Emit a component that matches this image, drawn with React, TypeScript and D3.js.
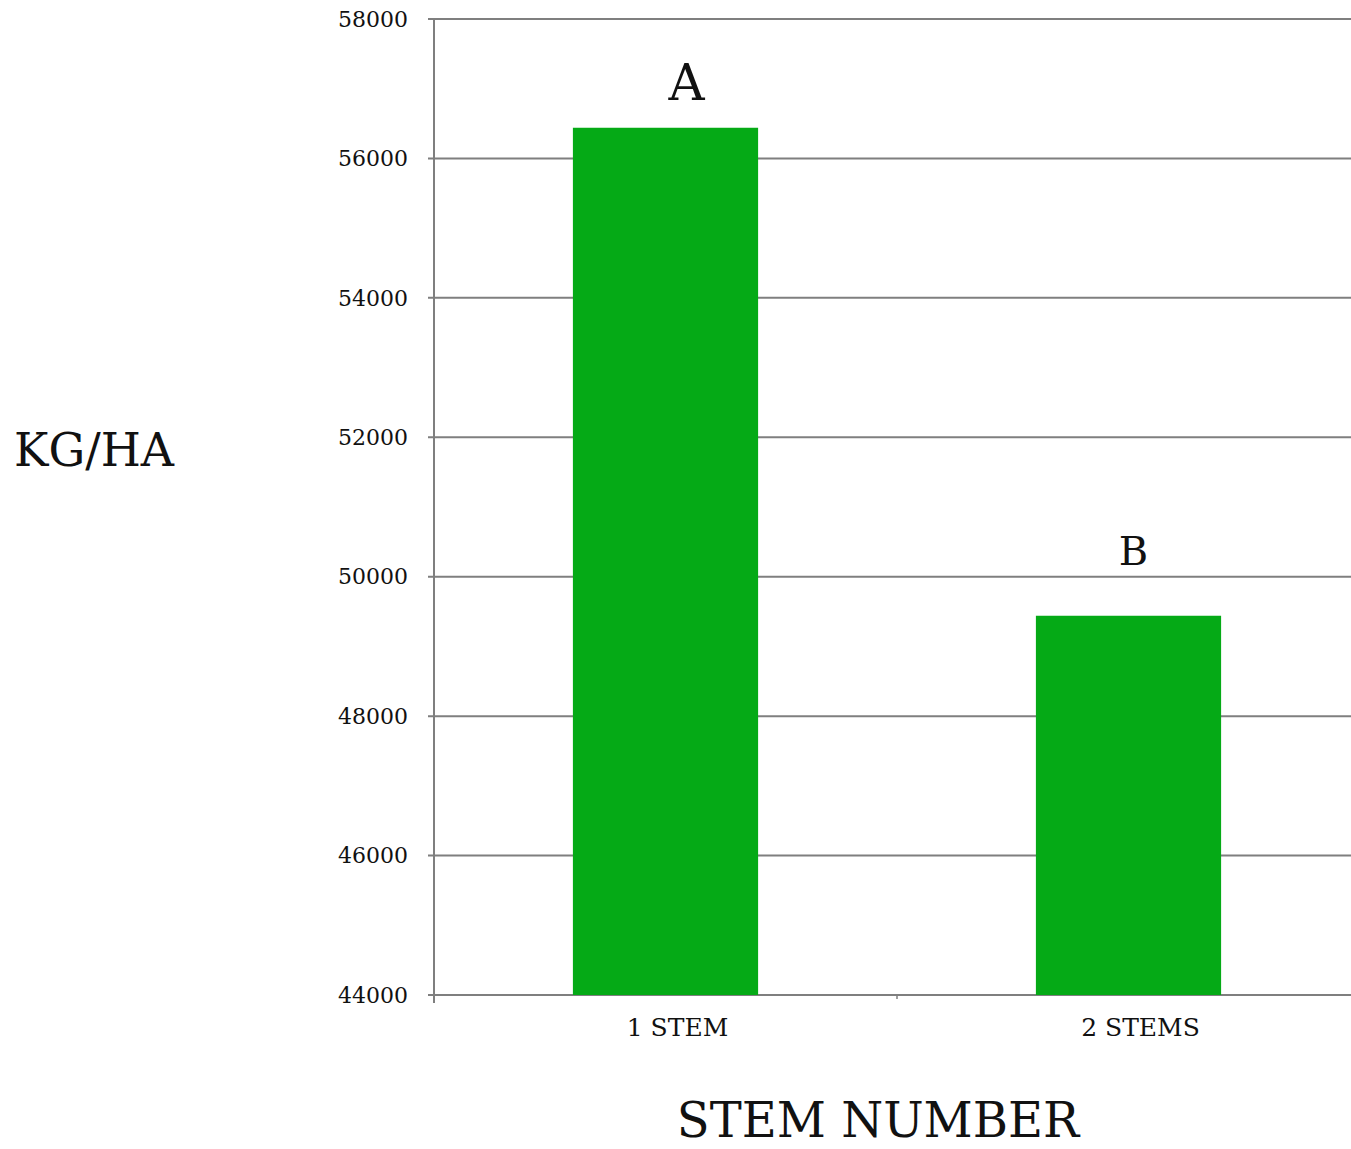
import React from "react";
import * as d3 from "d3";

const categories = ["1 STEM", "2 STEMS"];
const values = [56440, 49440];
const letters = ["A", "B"];
const yTicks = [44000, 46000, 48000, 50000, 52000, 54000, 56000, 58000];

const W = 1351;
const H = 1149;
const FONT = "'DejaVu Serif', serif";
const GRID = "#7f7f7f";

export default function App() {
  const x = d3.scaleBand<string>().domain(categories).range([434, 1360]).paddingInner(0).paddingOuter(0);
  const y = d3.scaleLinear().domain([44000, 58000]).range([995, 19]);
  const bw = x.bandwidth() * 0.4;
  const letterDx = [21, 5];
  const letterDy = [28, 51];
  const letterSize = [50, 40];
  return (
    <svg width={W} height={H} style={{ position: "absolute", left: 0, top: 0, background: "#fff" }}>
      {yTicks.map((t) => (
        <g key={t}>
          <line x1={428} x2={1360} y1={y(t)} y2={y(t)} stroke={GRID} strokeWidth={2} />
          <text x={408} y={y(t)} dy="0.35em" textAnchor="end" fontFamily={FONT} fontSize={22} fill="#111">
            {t}
          </text>
        </g>
      ))}
      <line x1={434} x2={434} y1={y(58000)} y2={y(44000) + 8} stroke={GRID} strokeWidth={2} />
      {categories.map((c, i) => {
        const cx = (x(c) as number) + x.bandwidth() / 2;
        return (
          <g key={c}>
            <rect x={cx - bw / 2} y={y(values[i])} width={bw} height={y(44000) - y(values[i])} fill="#05aa16" />
            <line x1={(x(c) as number) + x.bandwidth()} x2={(x(c) as number) + x.bandwidth()} y1={995} y2={999} stroke={GRID} strokeWidth={1.5} />
            <text x={cx + 12} y={1036} textAnchor="middle" fontFamily={FONT} fontSize={25} fill="#111">
              {c}
            </text>
            <text x={cx + letterDx[i]} y={y(values[i]) - letterDy[i]} textAnchor="middle" fontFamily={FONT} fontSize={letterSize[i]} fill="#111">
              {letters[i]}
            </text>
          </g>
        );
      })}
      <text x={94} y={466} textAnchor="middle" fontFamily={FONT} fontSize={46} fill="#111">
        KG/HA
      </text>
      <text x={878} y={1137} textAnchor="middle" fontFamily={FONT} fontSize={48} fill="#111">
        STEM NUMBER
      </text>
    </svg>
  );
}
